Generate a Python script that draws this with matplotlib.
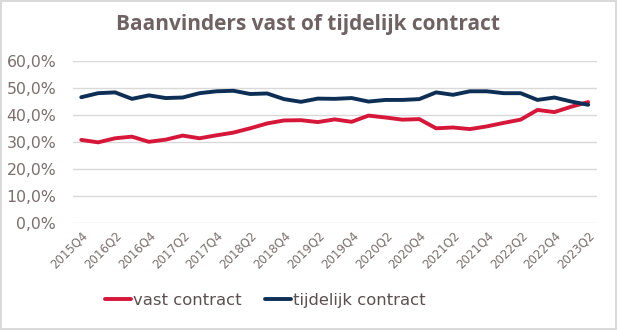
import matplotlib.pyplot as plt
from matplotlib.ticker import FuncFormatter

# Kwartalen 2015Q4 t/m 2023Q2
kwartalen = ['2015Q4', '2016Q1', '2016Q2', '2016Q3', '2016Q4', '2017Q1', '2017Q2', '2017Q3',
             '2017Q4', '2018Q1', '2018Q2', '2018Q3', '2018Q4', '2019Q1', '2019Q2', '2019Q3',
             '2019Q4', '2020Q1', '2020Q2', '2020Q3', '2020Q4', '2021Q1', '2021Q2', '2021Q3',
             '2021Q4', '2022Q1', '2022Q2', '2022Q3', '2022Q4', '2023Q1', '2023Q2']

vast = [30.8, 29.9, 31.4, 32.0, 30.1, 30.9, 32.4, 31.4, 32.5, 33.5, 35.1, 36.9, 38.0, 38.1,
        37.4, 38.4, 37.5, 39.8, 39.1, 38.3, 38.5, 35.1, 35.4, 34.8, 35.8, 37.1, 38.3, 41.9,
        41.1, 43.1, 44.8]
tijdelijk = [46.6, 48.1, 48.4, 46.0, 47.3, 46.3, 46.5, 48.1, 48.8, 49.0, 47.8, 48.0, 45.9,
             44.9, 46.1, 46.0, 46.3, 45.0, 45.6, 45.6, 45.9, 48.4, 47.5, 48.8, 48.8, 48.1,
             48.1, 45.6, 46.5, 45.0, 43.8]

rood = '#d6173a'
blauw = '#0e2f55'
grijs = '#7a6e6e'

fig = plt.figure(figsize=(6.17, 3.30), dpi=100)
fig.patch.set_edgecolor('#d9d9d9')
fig.patch.set_linewidth(1.5)
ax = fig.add_axes([0.118, 0.324, 0.849, 0.491])

x = list(range(len(kwartalen)))
ax.plot(x, vast, color=rood, lw=2.8, solid_joinstyle='round', solid_capstyle='round',
        label='vast contract')
ax.plot(x, tijdelijk, color=blauw, lw=2.8, solid_joinstyle='round', solid_capstyle='round',
        label='tijdelijk contract')

ax.set_ylim(0, 60)
ax.set_yticks(range(0, 61, 10))
ax.yaxis.set_major_formatter(FuncFormatter(lambda v, p: f'{v:.1f}%'.replace('.', ',')))
ax.set_xlim(-0.5, 30.5)
ax.set_xticks(x[::2])
ax.set_xticklabels(kwartalen[::2], rotation=45, ha='right', rotation_mode='anchor')

ax.grid(axis='y', color='#d9d9d9', lw=1)
ax.set_axisbelow(True)
for s in ax.spines.values():
    s.set_visible(False)
ax.tick_params(length=0, colors=grijs)
ax.tick_params(axis='y', labelsize=11.3, pad=12)
ax.tick_params(axis='x', labelsize=8.5, pad=4)

fig.text(0.5, 0.925, 'Baanvinders vast of tijdelijk contract', ha='center', va='center',
         fontsize=15, fontweight='bold', color='#6f6262', family='Open Sans')

fig.legend(loc='center', bbox_to_anchor=(0.43, 0.09), ncol=2, frameon=False,
           fontsize=11.8, handlelength=1.6, handletextpad=0.15, columnspacing=1.4,
           labelcolor='#5a5050')

fig.savefig('out.png', dpi=100)
